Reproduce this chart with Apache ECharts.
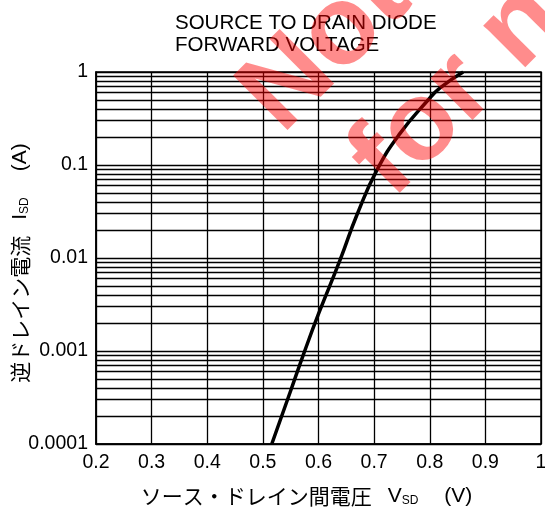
<!DOCTYPE html>
<html>
<head>
<meta charset="utf-8">
<style>
  html, body { margin: 0; padding: 0; background: #fff; }
  #main { width: 545px; height: 515px; }
</style>
<script src="https://cdn.jsdelivr.net/npm/echarts@6/dist/echarts.min.js"></script>
</head>
<body>
<div id="main"></div>
<script>
// Vsd (V) / Isd (A)
var vsd = [0.516, 0.549, 0.573, 0.600, 0.639, 0.669, 0.705, 0.747, 0.797, 0.818, 0.860];
var isd = [0.0001, 0.00036, 0.00092, 0.0025, 0.0096, 0.029, 0.088, 0.22, 0.50, 0.67, 1.0];

var xRange = [0.2, 1];
var decades = [0.0001, 0.001, 0.01, 0.1];
var minorSteps = [2, 3, 4, 5, 6, 7, 8, 9];

var font = '"Liberation Sans", Arial, sans-serif';
var cjk = '"Noto Sans CJK JP", "Liberation Sans", sans-serif';
var stamp = 'rgba(255,0,0,0.45)';

// log grid lines between the decades
var minorLines = [];
decades.forEach(function (d) {
  minorSteps.forEach(function (s) {
    var v = +(d * s).toPrecision(2);
    minorLines.push({ coords: [[xRange[0], v], [xRange[1], v]] });
  });
});

var points = vsd.map(function (v, i) { return [v, isd[i]]; });

var nameRich = {
  jp: { fontFamily: cjk, fontSize: 21, color: '#000' },
  g1: { width: 16 },
  g2: { width: 26 },
  v: { fontFamily: font, fontSize: 21, color: '#000' },
  sub: { fontFamily: font, fontSize: 12, color: '#000', verticalAlign: 'bottom' }
};

var myChart = echarts.init(document.getElementById('main'));
myChart.setOption({
  animation: false,
  title: {
    text: 'SOURCE TO DRAIN DIODE\nFORWARD VOLTAGE',
    left: 170,
    top: 7,
    textStyle: {
      fontFamily: font,
      fontSize: 20.5,
      fontWeight: 'normal',
      color: '#000',
      lineHeight: 22
    }
  },
  grid: {
    left: 96,
    right: 4,
    top: 72,
    bottom: 71,
    containLabel: false,
    outerBoundsMode: 'none',
    show: true,
    borderColor: '#000',
    borderWidth: 1.5
  },
  xAxis: {
    type: 'value',
    min: xRange[0],
    max: xRange[1],
    interval: 0.1,
    name: '{jp|ソース・ドレイン間電圧}{g1| }{v|V}{sub|SD}{g2| }{v|(V)}',
    nameLocation: 'middle',
    nameGap: 42,
    nameTextStyle: { rich: nameRich, padding: [0, 24, 0, 0] },
    axisLine: { lineStyle: { color: '#000', width: 1.5 } },
    axisTick: { show: false },
    axisLabel: {
      margin: 9,
      fontFamily: font,
      fontSize: 19.5,
      color: '#000',
      formatter: function (v) { return String(+v.toFixed(1)); }
    },
    splitLine: { show: true, lineStyle: { color: '#000', width: 1.3 } }
  },
  yAxis: {
    type: 'log',
    logBase: 10,
    min: 0.0001,
    max: 1,
    name: '{jp|逆ドレイン電流}{g1| }{v|I}{sub|SD}{g2| }{v|(A)}',
    nameLocation: 'middle',
    nameRotate: 90,
    nameGap: 65,
    nameMoveOverlap: false,
    nameTextStyle: { rich: nameRich, padding: [0, 10, 0, 0] },
    axisLine: { show: true, lineStyle: { color: '#000', width: 1.5 } },
    axisTick: { show: false },
    axisLabel: {
      margin: 8,
      fontFamily: font,
      fontSize: 19.5,
      color: '#000',
      formatter: function (v) { return String(+(+v).toPrecision(1)); }
    },
    splitLine: { show: true, lineStyle: { color: '#000', width: 1.3 } }
  },
  series: [{
    type: 'lines',
    coordinateSystem: 'cartesian2d',
    silent: true,
    data: minorLines,
    lineStyle: { color: '#000', width: 1.3, opacity: 1 },
    z: 1
  }, {
    type: 'line',
    data: points,
    smooth: true,
    symbol: 'none',
    lineStyle: { color: '#000', width: 3.5 },
    z: 5
  }],
  graphic: [{
    type: 'text',
    x: 300,
    y: 153,
    rotation: Math.PI / 4,
    z: 100,
    style: {
      text: 'Not',
      font: 'bold 112px "Liberation Sans", Arial, sans-serif',
      fill: stamp,
      textVerticalAlign: 'bottom'
    }
  }, {
    type: 'text',
    x: 410,
    y: 218,
    rotation: Math.PI / 4,
    z: 100,
    style: {
      text: 'for new design',
      font: 'bold 112px "Liberation Sans", Arial, sans-serif',
      fill: stamp,
      textVerticalAlign: 'bottom'
    }
  }]
});

window.addEventListener('resize', function () {
  myChart.resize();
});
</script>
</body>
</html>
